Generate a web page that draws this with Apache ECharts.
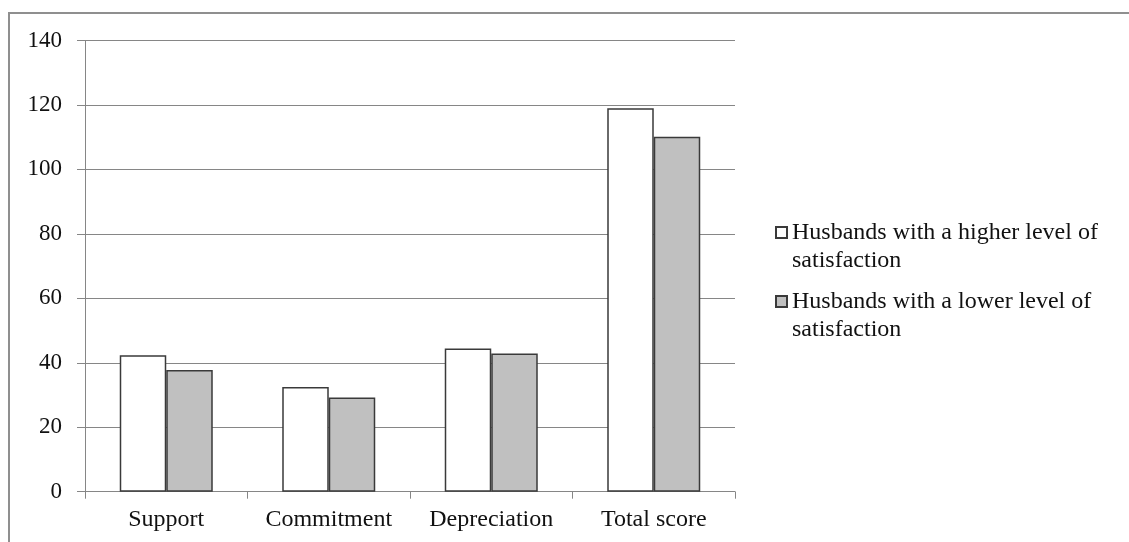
<!DOCTYPE html>
<html>
<head>
<meta charset="utf-8">
<style>
  html, body { margin: 0; padding: 0; background: #fff; }
  #chart { width: 1129px; height: 542px; }
</style>
<script src="https://cdn.jsdelivr.net/npm/echarts@6/dist/echarts.min.js"></script>
</head>
<body>
<div id="chart"></div>
<script>
// Marital satisfaction subscale means for two groups of husbands
const categories = ['Support', 'Commitment', 'Depreciation', 'Total score'];
const higherSatisfaction = [42.3, 32.5, 44.4, 119.0];
const lowerSatisfaction = [37.8, 29.2, 42.9, 110.1];
const seriesNames = [
  'Husbands with a higher level of satisfaction',
  'Husbands with a lower level of satisfaction'
];
const yTicks = { min: 0, max: 140, step: 20 };

const FONT = '"Liberation Serif", "Times New Roman", serif';
const AXIS_GRAY = '#868686';
const BAR_EDGE = '#3a3a3a';

// Wrap the legend label after "of". The leading blank line balances the
// vertically centred text block so the first line sits level with the square.
function wrapLegend(name) {
  return '\n' + name.replace(' of ', ' of\n');
}

function legendFor(name, top) {
  return {
    data: [name],
    orient: 'vertical',
    left: 775,
    top: top,
    padding: 0,
    icon: 'rect',
    itemWidth: 11,
    itemHeight: 11,
    itemGap: 0,
    selectedMode: false,
    formatter: wrapLegend,
    textStyle: {
      fontFamily: FONT,
      fontSize: 24,
      lineHeight: 28,
      color: '#111'
    }
  };
}

const chart = echarts.init(document.getElementById('chart'), null, { renderer: 'canvas' });

chart.setOption({
  backgroundColor: '#fff',
  animation: false,
  graphic: [{
    type: 'rect',
    shape: { x: 9, y: 13, width: 1300, height: 700 },
    style: { fill: 'none', stroke: '#8f8f8f', lineWidth: 2 },
    silent: true,
    z: -1
  }],
  grid: { left: 85, right: 394, top: 40.5, bottom: 50.3, containLabel: false },
  legend: [
    legendFor(seriesNames[0], 190.5),
    legendFor(seriesNames[1], 259.5)
  ],
  xAxis: {
    type: 'category',
    data: categories,
    axisLine: { show: true, lineStyle: { color: AXIS_GRAY, width: 1 } },
    axisTick: { show: true, length: 7, interval: 0, lineStyle: { color: AXIS_GRAY } },
    axisLabel: {
      fontFamily: FONT, fontSize: 24, color: '#111', margin: 16,
      interval: 0, hideOverlap: false
    },
    splitLine: { show: false }
  },
  yAxis: {
    type: 'value',
    min: yTicks.min,
    max: yTicks.max,
    interval: yTicks.step,
    axisLine: { show: true, lineStyle: { color: AXIS_GRAY, width: 1 } },
    axisTick: { show: true, length: 8, lineStyle: { color: AXIS_GRAY } },
    axisLabel: { fontFamily: FONT, fontSize: 23, color: '#111', margin: 23 },
    splitLine: { show: true, lineStyle: { color: AXIS_GRAY, width: 1 } }
  },
  series: [
    {
      name: seriesNames[0],
      type: 'bar',
      data: higherSatisfaction,
      barWidth: 46.5,
      barGap: '0%',
      itemStyle: { color: '#ffffff', borderColor: BAR_EDGE, borderWidth: 1.5 }
    },
    {
      name: seriesNames[1],
      type: 'bar',
      data: lowerSatisfaction,
      barWidth: 46.5,
      barGap: '0%',
      itemStyle: { color: '#c0c0c0', borderColor: BAR_EDGE, borderWidth: 1.5 }
    }
  ]
});
</script>
</body>
</html>
